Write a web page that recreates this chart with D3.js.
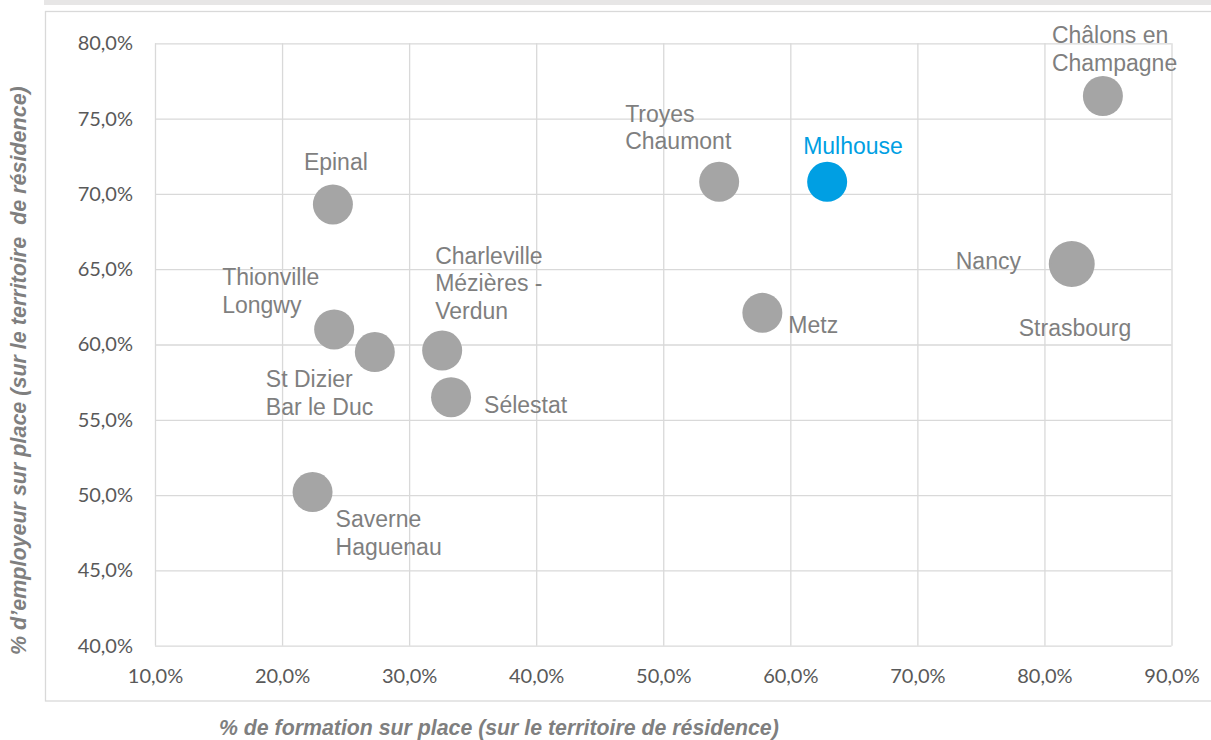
<!DOCTYPE html>
<html>
<head>
<meta charset="utf-8">
<script src="https://cdn.jsdelivr.net/npm/d3@7"></script>
<style>
  html, body { margin: 0; padding: 0; background: #fff; }
  svg { display: block; }
</style>
</head>
<body>
<div id="chart"></div>
<script>
// étiquettes des pôles (une ligne par élément)
var labels = [
  ['Châlons en', 'Champagne'],
  ['Troyes', 'Chaumont'],
  ['Mulhouse'],
  ['Epinal'],
  ['Strasbourg'],
  ['Nancy'],
  ['Metz'],
  ['Thionville', 'Longwy'],
  ['St Dizier', 'Bar le Duc'],
  ['Charleville', 'Mézières -', 'Verdun'],
  ['Sélestat'],
  ['Saverne', 'Haguenau']
];
// % de formation sur place
var formation = [84.6, 54.4, 62.9, 24.0, 82.15, 82.15, 57.8, 24.1, 27.3, 32.6, 33.3, 22.4];
// % d'employeur sur place
var employeur = [76.5, 70.8, 70.8, 69.3, 65.35, 65.35, 62.1, 61.0, 59.5, 59.6, 56.5, 50.2];
// taille relative des bulles
var poids = [1, 1, 1, 1, 1.32, 1, 1, 1, 1, 1, 1, 1];
var highlight = 'Mulhouse';

var xTicks = [10, 20, 30, 40, 50, 60, 70, 80, 90];
var yTicks = [40, 45, 50, 55, 60, 65, 70, 75, 80];

// placement des étiquettes autour des bulles (dx, dy de la 1re ligne)
var labelPos = [
  [-51, -53], [-94, -60], [-24, -28], [-29, -34], [-53, 72], [-116, 5],
  [26, 20], [-112, -44], [-109, 35], [-7, -87], [33, 16], [23, 35]
];

var width = 1211, height = 740;
var margin = {left: 155, right: 40, top: 43.3, bottom: 94.3};
var grey = '#a5a5a5', blue = '#009fe3', textGrey = '#7f7f7f', gridColor = '#d9d9d9';

var svg = d3.select('#chart').append('svg')
    .attr('width', width)
    .attr('height', height);

// bandeau gris en haut + cadre du graphique
svg.append('rect')
    .attr('x', 44).attr('y', 0)
    .attr('width', width - 44).attr('height', 5)
    .style('fill', '#e7e6e6');
svg.append('rect')
    .attr('x', 45.5).attr('y', 11.5)
    .attr('width', width).attr('height', 689.5)
    .style('fill', 'none')
    .style('stroke', gridColor)
    .style('stroke-width', 1.3);

var x = d3.scaleLinear()
    .domain([10, 90])
    .range([margin.left, width - margin.right + 0.5]);
var y = d3.scaleLinear()
    .domain([40, 80])
    .range([height - margin.bottom, margin.top]);
var r = d3.scaleSqrt()
    .domain([0, 1])
    .range([0, 20]);

var fmt = function (d) {
    return d3.format('.1f')(d).replace('.', ',') + '%';
};

var plotH = y(40) - y(80), plotW = x(90) - x(10);

var gx = svg.append('g')
    .attr('transform', 'translate(0,' + y(40) + ')')
    .call(d3.axisBottom(x).tickValues(xTicks).tickSize(-plotH).tickPadding(23).tickFormat(fmt));
var gy = svg.append('g')
    .attr('transform', 'translate(' + x(10) + ',0)')
    .call(d3.axisLeft(y).tickValues(yTicks).tickSize(-plotW).tickPadding(22).tickFormat(fmt));

[gx, gy].forEach(function (g) {
    g.select('.domain').remove();
    g.selectAll('.tick line')
        .style('stroke', gridColor)
        .style('stroke-width', 1.3);
    g.selectAll('.tick text')
        .style('fill', '#595959')
        .style('font-family', 'Lato, "Open Sans", sans-serif')
        .style('font-size', '20px');
});

var points = labels.map(function (l, i) {
    return {name: l.join(' '), lines: l, fx: formation[i], fy: employeur[i], w: poids[i], pos: labelPos[i]};
});

svg.append('g')
    .selectAll('circle')
    .data(points)
    .enter()
    .append('circle')
    .attr('cx', function (d) { return x(d.fx); })
    .attr('cy', function (d) { return y(d.fy); })
    .attr('r', function (d) { return r(d.w); })
    .style('fill', function (d) { return d.name == highlight ? blue : grey; });

var lab = svg.append('g')
    .selectAll('text')
    .data(points)
    .enter()
    .append('text')
    .attr('x', function (d) { return x(d.fx) + d.pos[0]; })
    .attr('y', function (d) { return y(d.fy) + d.pos[1]; })
    .style('font-family', '"Liberation Sans", Arial, sans-serif')
    .style('font-size', '23px')
    .style('fill', function (d) { return d.name == highlight ? blue : textGrey; });

lab.selectAll('tspan')
    .data(function (d) {
        return d.lines.map(function (t) { return {t: t, x: x(d.fx) + d.pos[0]}; });
    })
    .enter()
    .append('tspan')
    .attr('x', function (d) { return d.x; })
    .attr('dy', function (d, i) { return i == 0 ? 0 : 27.5; })
    .text(function (d) { return d.t; });

// titres des axes
svg.append('text')
    .attr('x', 219)
    .attr('y', 735)
    .style('font-family', '"Liberation Sans", Arial, sans-serif')
    .style('font-size', '21.3px')
    .style('font-weight', 'bold')
    .style('font-style', 'italic')
    .style('fill', textGrey)
    .text('% de formation sur place (sur le territoire de résidence)');

svg.append('text')
    .attr('transform', 'translate(26,655) rotate(-90)')
    .style('font-family', '"Liberation Sans", Arial, sans-serif')
    .style('font-size', '21.5px')
    .style('font-weight', 'bold')
    .style('font-style', 'italic')
    .style('white-space', 'pre')
    .style('fill', textGrey)
    .text('% d’employeur sur place (sur le territoire  de résidence)');
</script>
</body>
</html>
